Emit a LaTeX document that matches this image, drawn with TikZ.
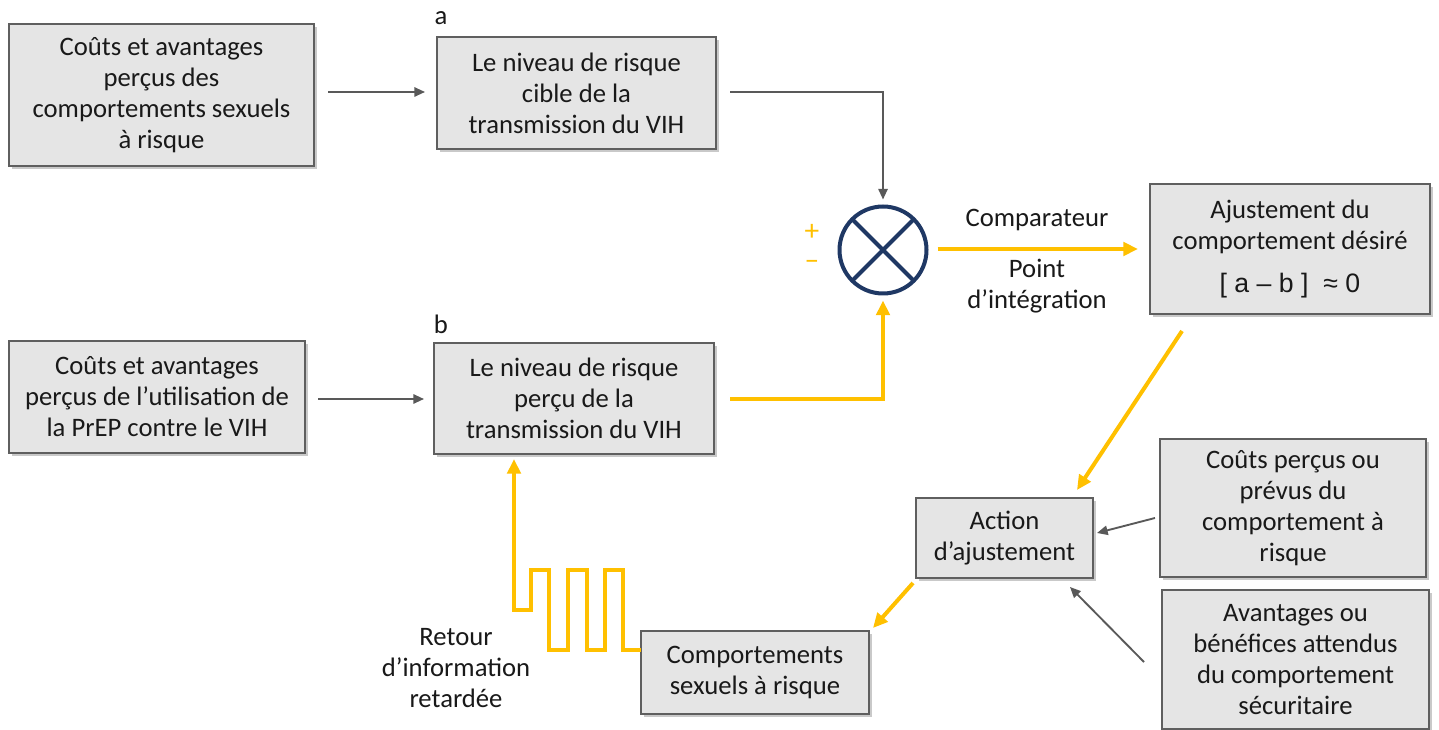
\documentclass[tikz,border=0pt]{standalone}
\usepackage{fontspec}
\setmainfont{Carlito}
\newfontfamily\arialfont{Liberation Sans}
\usetikzlibrary{arrows.meta,shadows,calc}
\definecolor{gold}{HTML}{FFC000}
\definecolor{arrowgray}{HTML}{595959}
\definecolor{boxfill}{HTML}{E5E5E5}
\definecolor{boxline}{HTML}{5F5F5F}
\definecolor{navy}{HTML}{1F3864}
\begin{document}
\begin{tikzpicture}[x=0.75pt,y=-0.75pt,
  every node/.style={font=\fontsize{20}{23.25}\selectfont, text=black!90, inner sep=0pt, outer sep=0pt},
  box/.style={draw=boxline, line width=1.1pt, fill=boxfill, align=center,
    drop shadow={shadow xshift=2.2pt,shadow yshift=-2.2pt,opacity=0.35,fill=black!60}},
  wh/.style 2 args={minimum width=#1*0.75pt, minimum height=#2*0.75pt},
  grayarrow/.style={draw=arrowgray, line width=1.4pt, -{Triangle[length=8pt,width=7pt]}},
  goldline/.style={draw=gold, line width=3pt},
  goldarrow/.style={goldline, -{Triangle[length=11pt,width=10pt]}},
  sign/.style={text=gold, font=\fontsize{22}{22}\selectfont},
]
\useasboundingbox[fill=white] (0,0) rectangle (1439,730);

% boxes
\node[box, wh={305}{142}] (A1) at (161.5,95) {Coûts et avantages\\perçus des\\comportements sexuels\\à risque};
\node[box, wh={279}{112}] (a) at (576.5,93) {Le niveau de risque\\cible de la\\transmission du VIH};
\node[box, wh={296}{112}] (B1) at (157,397) {Coûts et avantages\\perçus de l’utilisation de\\la PrEP contre le VIH};
\node[box, wh={280}{111}] (b) at (574,398.5) {Le niveau de risque\\perçu de la\\transmission du VIH};
\node[box, wh={280}{130}] (Ajust) at (1290,249) {Ajustement du\\comportement désiré\\[9pt]{\arialfont [ a – b ]\ \ ≈ 0}};
\node[box, wh={177}{80}] (Action) at (1004.5,538) {Action\\d’ajustement};
\node[box, wh={266}{138}] (Couts) at (1293,508) {Coûts perçus ou\\prévus du\\comportement à\\risque};
\node[box, wh={267}{139}] (Avant) at (1295.5,659.5) {Avantages ou\\bénéfices attendus\\du comportement\\sécuritaire};
\node[box, wh={228}{83}] (Comport) at (755,672.5) {Comportements\\sexuels à risque};

% labels
\node (la) at (441,18) {a};
\node (lb) at (441,324) {b};
\node[sign] (plus) at (812,232) {+};
\node[sign] (minus) at (812,265) {–};
\node (comp) at (1037,220) {Comparateur};
\node[align=center] (pt) at (1037,286) {Point\\d’intégration};
\node[align=center] (ret) at (456,668) {Retour\\d’information\\retardée};

% comparator
\node[circle, draw=navy, line width=3pt, fill=white, minimum size=87*0.75pt] (c) at (883,250) {};
\draw[navy, line width=3pt] (c.north east) -- (c.south west) (c.north west) -- (c.south east);

% gray arrows
\draw[grayarrow] ($(A1.east)+(14,-3)$) -- ($(a.west)+(-12,-1)$);
\draw[grayarrow] ($(B1.east)+(13,2)$) -- ($(b.west)+(-10,0.5)$);
\draw[grayarrow] ($(a.east)+(14,-1)$) -| ($(c.north)+(0,-7)$);
\draw[grayarrow] ($(Couts.west)+(-5,10)$) -- ($(Action.east)+(4,-5)$);
\draw[grayarrow] ($(Avant.west)+(-18,2.5)$) -- ($(Action.south east)+(-23,9)$);

% gold arrows
\draw[goldarrow] ($(b.east)+(16,0.5)$) -| ($(c.south)+(0,7)$);
\draw[goldarrow] ($(c.east)+(11,-1)$) -- ($(Ajust.west)+(-12,0)$);
\draw[goldarrow] ($(Ajust.south west)+(32,17)$) -- ($(Action.north east)+(-16,-8)$);
\draw[goldarrow] ($(Action.south west)+(-3,5)$) -- ($(Comport.north east)+(4,-3)$);

% delayed feedback (square wave)
\draw[goldarrow] ($(Comport.north west)+(0,19)$)
  -- ++(-18,0) -- ++(0,-80) -- ++(-18,0) -- ++(0,80)
  -- ++(-18,0) -- ++(0,-80) -- ++(-19,0) -- ++(0,80)
  -- ++(-19,0) -- ++(0,-80) -- ++(-18,0) -- ++(0,40)
  -| ($(b.south)+(-60,5)$);
\end{tikzpicture}
\end{document}
